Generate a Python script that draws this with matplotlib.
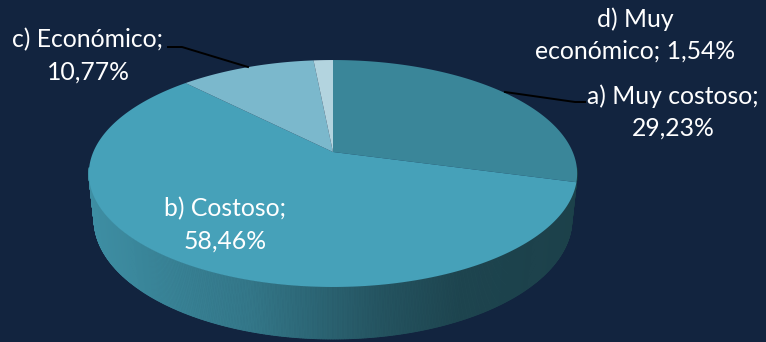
import numpy as np
import matplotlib
matplotlib.use("Agg")
import matplotlib.pyplot as plt
from matplotlib.collections import PolyCollection
from matplotlib.colors import to_rgb

# ---- data ----
categories = ["a) Muy costoso", "b) Costoso", "c) Económico", "d) Muy económico"]
values = [29.23, 58.46, 10.77, 1.54]
label_breaks = ["{cat};\n{val}", "{cat};\n{val}", "{cat};\n{val}", "d) Muy\neconómico; {val}"]

# ---- style ----
BG = "#12243f"
top_colors = ["#3a8699", "#46a1b9", "#7bb8cc", "#b3d4df"]
W, H = 766, 342
cx, cy = 333, 152                 # pie centre on screen (pixels)
# 3-D camera: elevation e, distance D, focal F, thickness h (unit radius pie)
sin_e, cos_e = 0.4564, 0.8898
Dcam, Fcam, hpie = 4.695, 1125.5, 0.216
label_pos = [(673, 112), (225, 225), (88, 56), (635, 35)]
FONT = "Lato"

fig = plt.figure(figsize=(W / 100, H / 100), dpi=100, facecolor=BG)
ax = fig.add_axes([0, 0, 1, 1])
ax.set_facecolor(BG)
ax.set_xlim(0, W)
ax.set_ylim(H, 0)
ax.axis("off")


def proj(phi_deg, z=0.0):
    phi = np.radians(phi_deg)
    X = np.sin(phi)
    Y = -np.cos(phi)
    dz = Dcam - Y * cos_e - z * sin_e
    return cx + Fcam * X / dz, cy + Fcam * (Y * sin_e - z * cos_e) / dz


total = sum(values)
bounds = np.concatenate([[0], np.cumsum(values) / total * 360])

# ---- side (front rim) ----
p = cos_e / Dcam
phi_r = np.degrees(np.arccos(-p))
phi_l = 360 - phi_r
phis = np.linspace(phi_r - 3, phi_l + 3, 500)
xr, _ = proj(phi_r)
xl, _ = proj(phi_l)
polys, cols = [], []
for f0, f1 in zip(phis[:-1], phis[1:]):
    fm = 0.5 * (f0 + f1)
    idx = min(max(np.searchsorted(bounds, fm) - 1, 0), len(values) - 1)
    base = np.array(to_rgb(top_colors[idx]))
    x0, y0 = proj(f0)
    x1, y1 = proj(f1)
    bx0, by0 = proj(f0, -hpie)
    bx1, by1 = proj(f1, -hpie)
    t = np.clip(((x0 + x1) / 2 - xl) / (xr - xl), 0, 1)
    fac = np.interp(t, [0, 0.33, 0.6, 0.76, 1.0], [0.88, 0.74, 0.52, 0.43, 0.40])
    polys.append([(x0, y0), (x1, y1), (bx1, by1), (bx0, by0)])
    cols.append(tuple(base * fac))
pc = PolyCollection(polys, facecolors=cols, edgecolors=cols, linewidths=0.6)
ax.add_collection(pc)

# ---- top surface ----
for i in range(len(values)):
    arc = np.linspace(bounds[i], bounds[i + 1], 200)
    xs, ys = proj(arc)
    px = np.concatenate([[cx], xs])
    py = np.concatenate([[cy], ys])
    ax.fill(px, py, color=top_colors[i], lw=0, zorder=3)

# ---- labels ----
for i, (cat, val) in enumerate(zip(categories, values)):
    vtxt = f"{val:.2f}%".replace(".", ",")
    txt = label_breaks[i].format(cat=cat, val=vtxt)
    ax.text(label_pos[i][0], label_pos[i][1], txt, ha="center", va="center",
            color="white", fontsize=17.8, family=FONT, linespacing=1.5, zorder=5)

# ---- leader lines ----
ax.plot([168, 182, 248], [47, 47, 67], color="black", lw=1.4, zorder=4)
ax.plot([505, 575, 585], [92, 102, 102], color="black", lw=1.4, zorder=4)

fig.savefig("out.png", dpi=100, facecolor=BG)
